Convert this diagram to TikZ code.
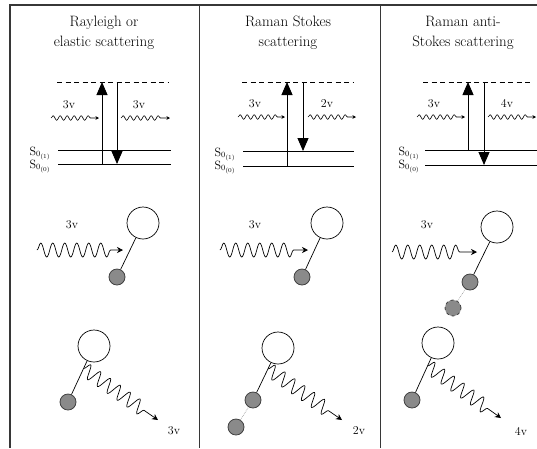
\documentclass[tikz,border=0pt]{standalone}
\usetikzlibrary{arrows.meta,decorations.pathmorphing,calc}
\definecolor{atomgray}{RGB}{138,138,138}
\definecolor{framegray}{RGB}{55,55,55}
\begin{document}
\begin{tikzpicture}[x=1pt,y=-1pt,
  frame/.style={draw=framegray,line width=1.1pt},
  title/.style={align=center,font=\fontsize{15}{20}\selectfont,inner sep=0pt},
  freq/.style={font=\fontsize{12}{14}\selectfont,inner sep=0pt},
  slabel/.style={font=\fontsize{12}{14}\selectfont,inner sep=0pt,anchor=base east},
  level/.style={line width=0.9pt},
  virtual/.style={line width=0.9pt,dash pattern=on 5pt off 3.5pt},
  transition/.style={line width=0.9pt,-{Triangle[length=13pt,width=11pt]}},
  smallwave/.style={decorate,decoration={snake,segment length=7pt,amplitude=2.3pt,post length=7pt},line width=0.6pt,-{Stealth[length=3.5pt,width=3.5pt]}},
  bigwave/.style={decorate,decoration={snake,segment length=12pt,amplitude=7pt,post length=12pt},line width=0.7pt,-{Stealth[length=6pt,width=6pt]}},
  nucleus/.style={circle,draw,line width=0.7pt,minimum size=32pt,inner sep=0pt,fill=white},
  atom/.style={circle,draw=black!75,line width=0.8pt,minimum size=16pt,inner sep=0pt,fill=atomgray},
  ghost/.style={atom,dashed},
  bond/.style={line width=0.7pt},
  faint/.style={draw=gray!70,line width=0.7pt,densely dotted}
]
\useasboundingbox (0,0) rectangle (537,448);

% ---------- frame and column dividers ----------
\coordinate (tr) at (537,5);
\coordinate (tl) at (10,5);
\coordinate (bl) at (10,448);
\coordinate (d1t) at (199,5);
\coordinate (d1b) at (199,448);
\coordinate (d2t) at (380,5);
\coordinate (d2b) at (380,448);
\draw[frame] (tr) -- (tl) -- (bl);
\draw[frame,line width=0.9pt] (d1t) -- (d1b);
\draw[frame,line width=0.9pt] (d2t) -- (d2b);

% ---------- column titles ----------
\node[title] (title1) at (104,33) {Rayleigh or\\elastic scattering};
\node[title] (title2) at (288,33) {Raman Stokes\\scattering};
\node[title] (title3) at (463,33) {Raman anti-\\Stokes scattering};

% ---------- energy diagrams ----------
% column 1: Rayleigh
\coordinate (v1a) at (57,82);  \coordinate (v1b) at (168,82);
\coordinate (e1a) at (58,150); \coordinate (e1b) at (171,150);
\coordinate (g1a) at (58,164); \coordinate (g1b) at (171,164);
\draw[virtual] (v1a) -- (v1b);
\draw[level] (e1a) -- (e1b);
\draw[level] (g1a) -- (g1b);
\coordinate (u1s) at (102,164); \coordinate (u1e) at (102,82);
\coordinate (d1s) at (117,82);  \coordinate (d1e) at (117,164);
\draw[transition] (u1s) -- (u1e);
\draw[transition] (d1s) -- (d1e);
\coordinate (wi1s) at (51,118);  \coordinate (wi1e) at (99,118);
\coordinate (wo1s) at (121,118); \coordinate (wo1e) at (170,118);
\draw[smallwave] (wi1s) -- (wi1e);
\draw[smallwave] (wo1s) -- (wo1e);
\node[freq] (fi1) at (69,105) {3v};
\node[freq] (fo1) at (139,105) {3v};
\node[slabel] (s11) at (51,155) {S$_{0_{(1)}}$};
\node[slabel] (s10) at (51,168) {S$_{0_{(0)}}$};

% column 2: Raman Stokes
\coordinate (v2a) at (242,82);  \coordinate (v2b) at (353,82);
\coordinate (e2a) at (243,151); \coordinate (e2b) at (354,151);
\coordinate (g2a) at (243,166); \coordinate (g2b) at (354,166);
\draw[virtual] (v2a) -- (v2b);
\draw[level] (e2a) -- (e2b);
\draw[level] (g2a) -- (g2b);
\coordinate (u2s) at (287,166); \coordinate (u2e) at (287,82);
\coordinate (d2s) at (303,82);  \coordinate (d2e) at (303,151);
\draw[transition] (u2s) -- (u2e);
\draw[transition] (d2s) -- (d2e);
\coordinate (wi2s) at (238,117); \coordinate (wi2e) at (285,117);
\coordinate (wo2s) at (308,117); \coordinate (wo2e) at (356,117);
\draw[smallwave] (wi2s) -- (wi2e);
\draw[smallwave] (wo2s) -- (wo2e);
\node[freq] (fi2) at (255,104) {3v};
\node[freq] (fo2) at (327,104) {2v};
\node[slabel] (s21) at (236,156) {S$_{0_{(1)}}$};
\node[slabel] (s20) at (236,169) {S$_{0_{(0)}}$};

% column 3: Raman anti-Stokes
\coordinate (v3a) at (423,82);  \coordinate (v3b) at (533,82);
\coordinate (e3a) at (425,150); \coordinate (e3b) at (537,150);
\coordinate (g3a) at (425,165); \coordinate (g3b) at (537,165);
\draw[virtual] (v3a) -- (v3b);
\draw[level] (e3a) -- (e3b);
\draw[level] (g3a) -- (g3b);
\coordinate (u3s) at (468,150); \coordinate (u3e) at (468,82);
\coordinate (d3s) at (484,82);  \coordinate (d3e) at (484,165);
\draw[transition] (u3s) -- (u3e);
\draw[transition] (d3s) -- (d3e);
\coordinate (wi3s) at (417,117); \coordinate (wi3e) at (465,117);
\coordinate (wo3s) at (488,117); \coordinate (wo3e) at (536,117);
\draw[smallwave] (wi3s) -- (wi3e);
\draw[smallwave] (wo3s) -- (wo3e);
\node[freq] (fi3) at (434,104) {3v};
\node[freq] (fo3) at (507,104) {4v};
\node[slabel] (s31) at (420,155) {S$_{0_{(1)}}$};
\node[slabel] (s30) at (420,168) {S$_{0_{(0)}}$};

% ---------- incoming photon on the molecule ----------
% column 1
\node[nucleus] (n1) at (143,223) {};
\node[atom] (a1) at (117,277) {};
\draw[bond] (a1) -- (n1);
\coordinate (p1s) at (37,250); \coordinate (p1e) at (123,250);
\draw[bigwave] (p1s) -- (p1e);
\node[freq] (l1) at (72,225) {3v};

% column 2
\node[nucleus] (n2) at (327,223) {};
\node[atom] (a2) at (302,277) {};
\draw[bond] (a2) -- (n2);
\coordinate (p2s) at (220,250); \coordinate (p2e) at (308,250);
\draw[bigwave] (p2s) -- (p2e);
\node[freq] (l2) at (255,225) {3v};

% column 3
\node[nucleus] (n3) at (497,227) {};
\node[atom] (a3) at (470,282) {};
\node[ghost] (h3) at (453,308) {};
\draw[bond] (a3) -- (n3);
\draw[faint] (h3) -- (a3);
\coordinate (p3s) at (392,252); \coordinate (p3e) at (477,252);
\draw[bigwave] (p3s) -- (p3e);
\node[freq] (l3) at (427,225) {3v};

% ---------- scattered photon leaving the molecule ----------
% column 1
\node[nucleus] (m1) at (94,346) {};
\node[atom] (b1) at (68,402) {};
\draw[bond] (b1) -- (m1);
\coordinate (q1s) at ($(b1)!0.6!(m1)$); \coordinate (q1e) at (158,420);
\draw[bigwave] (q1s) -- (q1e);
\node[freq] (k1) at (174,431) {3v};

% column 2
\node[nucleus] (m2) at (278,348) {};
\node[atom] (b2) at (253,400) {};
\node[atom] (c2) at (236,427) {};
\draw[bond] (b2) -- (m2);
\draw[faint] (c2) -- (b2);
\coordinate (q2s) at ($(b2)!0.6!(m2)$); \coordinate (q2e) at (342,420);
\draw[bigwave] (q2s) -- (q2e);
\node[freq] (k2) at (359,431) {2v};

% column 3
\node[nucleus] (m3) at (438,343) {};
\node[atom] (b3) at (412,400) {};
\draw[bond] (b3) -- (m3);
\coordinate (q3s) at ($(b3)!0.6!(m3)$); \coordinate (q3e) at (501,418);
\draw[bigwave] (q3s) -- (q3e);
\node[freq] (k3) at (521,431) {4v};
\end{tikzpicture}
\end{document}
